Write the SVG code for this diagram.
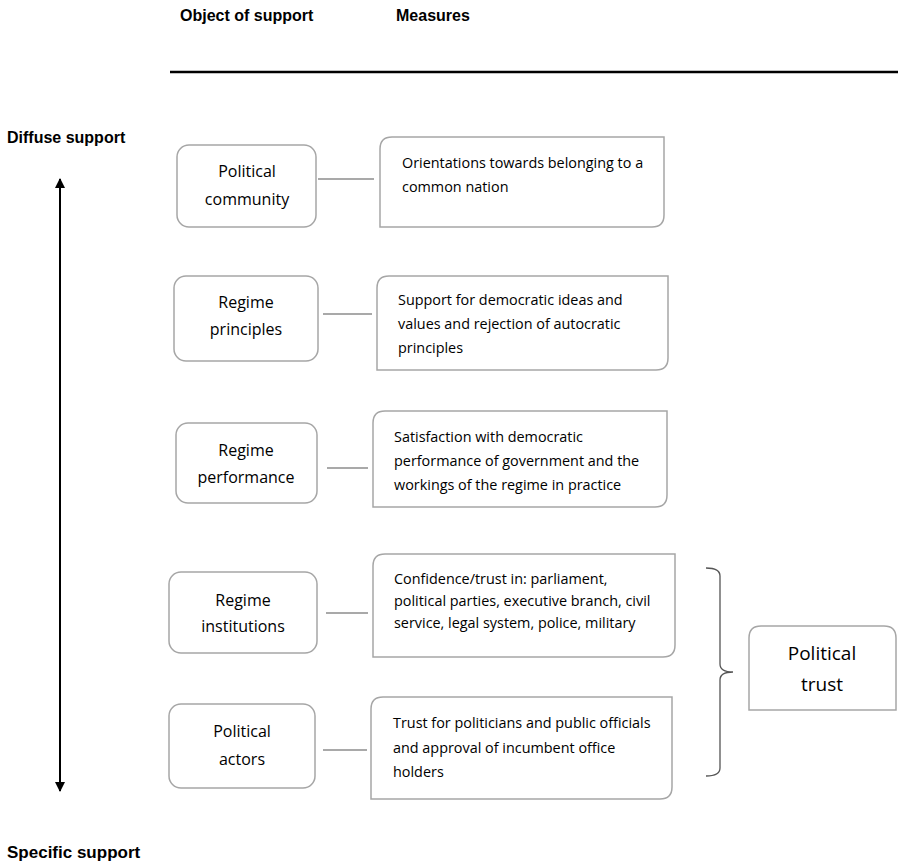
<svg xmlns="http://www.w3.org/2000/svg" width="898" height="865" viewBox="0 0 898 865">
<style>
.hdr{font-family:"Liberation Sans",Arial,sans-serif;font-weight:bold;font-size:16px;fill:#000}
.node rect,.node path{fill:#fff;stroke:#a6a6a6;stroke-width:1.5}
.nt{font-family:"Open Sans","Liberation Sans",sans-serif;font-size:16px;fill:#000;text-anchor:middle}
.mt{font-family:"Open Sans","Liberation Sans",sans-serif;font-size:14.4px;fill:#000}
.conn line{stroke:#555;stroke-width:1.2}
</style>
<defs>
<marker id="ah" viewBox="0 0 10 10" refX="9" refY="5" markerWidth="10" markerHeight="10" markerUnits="userSpaceOnUse" orient="auto-start-reverse">
<path d="M0,0 L10,5 L0,10 z" fill="#000"/>
</marker>
</defs>
<rect width="898" height="865" fill="#fff"/>
<text class="hdr" x="180" y="21">Object of support</text>
<text class="hdr" x="396" y="21">Measures</text>
<line x1="170" y1="72" x2="898" y2="72" stroke="#000" stroke-width="2.5"/>
<text class="hdr" x="7" y="143">Diffuse support</text>
<text class="hdr" x="7" y="858" style="font-size:17px">Specific support</text>

<g class="conn">
<line x1="60" y1="179" x2="60" y2="791" marker-start="url(#ah)" marker-end="url(#ah)" style="stroke:#000;stroke-width:2"/>
<line x1="318" y1="179" x2="374" y2="179"/>
<line x1="323" y1="314" x2="372" y2="314"/>
<line x1="327" y1="468" x2="368" y2="468"/>
<line x1="326" y1="613" x2="368" y2="613"/>
<line x1="323" y1="750" x2="367" y2="750"/>
<path d="M706,568 Q720,568 720,576 L720,664 Q720,672 733,672 Q720,672 720,680 L720,768 Q720,776 706,776" fill="none" stroke="#555" stroke-width="1.3"/>
</g>

<g id="political-community" class="node">
<rect x="177" y="145" width="139" height="82" rx="12"/>
<text class="nt" x="247" y="177">Political</text>
<text class="nt" x="247" y="205">community</text>
</g>
<g id="m-political-community" class="node">
<path d="M392,137 H664 V215 Q664,227 652,227 H380 V149 Q380,137 392,137 Z"/>
<text class="mt" x="402" y="168">Orientations towards belonging to a</text>
<text class="mt" x="402" y="192">common nation</text>
</g>

<g id="regime-principles" class="node">
<rect x="174" y="276" width="144" height="85" rx="12"/>
<text class="nt" x="246" y="308">Regime</text>
<text class="nt" x="246" y="335">principles</text>
</g>
<g id="m-regime-principles" class="node">
<path d="M389,276 H668 V358 Q668,370 656,370 H377 V288 Q377,276 389,276 Z"/>
<text class="mt" x="398" y="305">Support for democratic ideas and</text>
<text class="mt" x="398" y="329">values and rejection of autocratic</text>
<text class="mt" x="398" y="353">principles</text>
</g>

<g id="regime-performance" class="node">
<rect x="176" y="423" width="141" height="80" rx="12"/>
<text class="nt" x="246" y="456">Regime</text>
<text class="nt" x="246" y="483">performance</text>
</g>
<g id="m-regime-performance" class="node">
<path d="M385,411 H667 V495 Q667,507 655,507 H373 V423 Q373,411 385,411 Z"/>
<text class="mt" x="394" y="442">Satisfaction with democratic</text>
<text class="mt" x="394" y="466">performance of government and the</text>
<text class="mt" x="394" y="490">workings of the regime in practice</text>
</g>

<g id="regime-institutions" class="node">
<rect x="169" y="572" width="148" height="81" rx="12"/>
<text class="nt" x="243" y="606">Regime</text>
<text class="nt" x="243" y="632">institutions</text>
</g>
<g id="m-regime-institutions" class="node">
<path d="M385,554 H675 V645 Q675,657 663,657 H373 V566 Q373,554 385,554 Z"/>
<text class="mt" x="394" y="584">Confidence/trust in: parliament,</text>
<text class="mt" x="394" y="606">political parties, executive branch, civil</text>
<text class="mt" x="394" y="628">service, legal system, police, military</text>
</g>

<g id="political-actors" class="node">
<rect x="169" y="704" width="146" height="84" rx="12"/>
<text class="nt" x="242" y="737">Political</text>
<text class="nt" x="242" y="765">actors</text>
</g>
<g id="m-political-actors" class="node">
<path d="M383,697 H672 V787 Q672,799 660,799 H371 V709 Q371,697 383,697 Z"/>
<text class="mt" x="393" y="728">Trust for politicians and public officials</text>
<text class="mt" x="393" y="753">and approval of incumbent office</text>
<text class="mt" x="393" y="777">holders</text>
</g>

<g id="political-trust" class="node">
<path d="M749,710 V638 Q749,626 761,626 H884 Q896,626 896,638 V710 Z"/>
<text class="nt" x="822" y="660" style="font-size:19px">Political</text>
<text class="nt" x="822" y="691" style="font-size:19px">trust</text>
</g>
</svg>
